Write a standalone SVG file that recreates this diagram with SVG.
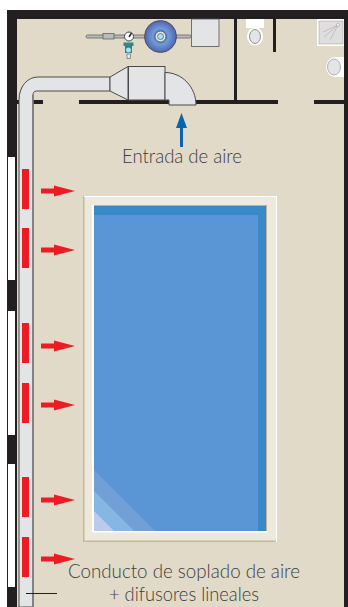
<svg xmlns="http://www.w3.org/2000/svg" width="348" height="607" viewBox="0 0 348 607">
<style>
.wall{fill:#231f20}
.win{fill:#fff}
.duct{fill:#e3e4e6;stroke:#4a4a4a;stroke-width:1}
.bar{fill:#ed1c24}
.lbl{font-family:"Lato","Liberation Sans",sans-serif;font-weight:300;font-size:19px;fill:#3c3c3c;text-anchor:middle}
.pipe{fill:#b9babc;stroke:#555;stroke-width:.7}
</style>
<defs>
<g id="arrow"><path class="bar" d="M41 -2.500H54V-5.500L75 0L54 5.500V2.500H41Z"/></g>
<radialGradient id="fan"><stop offset="0" stop-color="#2e4f9e"/><stop offset=".5" stop-color="#6f9bd8"/><stop offset="1" stop-color="#5363ad"/></radialGradient>
</defs>
<rect width="348" height="607" fill="#fff"/>
<g id="floor">
<rect x="17" y="19" width="327" height="588" fill="#e1dac8"/>
</g>
<g id="walls">
<rect class="wall" x="7" y="10" width="341" height="9"/>
<rect class="wall" x="7" y="10" width="10" height="597"/>
<rect class="wall" x="344" y="10" width="4" height="597"/>
<rect class="wall" x="234" y="19" width="3" height="83"/>
<rect class="wall" x="273" y="19" width="3" height="33"/>
<rect class="wall" x="17" y="100" width="26" height="4"/>
<rect class="wall" x="79" y="100" width="199" height="4"/>
<rect class="wall" x="314" y="100" width="30" height="4"/>
<rect class="win" x="8" y="157" width="7" height="123"/>
<rect class="win" x="8" y="311" width="7" height="124"/>
<rect class="win" x="8" y="464" width="7" height="123"/>
</g>
<g id="bathroom">
<rect x="246" y="19" width="18" height="9" fill="#fff"/>
<ellipse cx="255" cy="36.500" rx="8" ry="9" fill="#fff"/>
<ellipse cx="255" cy="36.500" rx="5.500" ry="7" fill="#e3e4e6" stroke="#777" stroke-width=".8"/>
<rect x="317" y="19" width="27" height="27" fill="#fff"/>
<rect x="319" y="21" width="24" height="23" fill="#dddedd" stroke="#999" stroke-width=".5"/>
<path d="M338 25L323 32M338 25L324 37M338 25L330 40" stroke="#aaa" stroke-width=".6" fill="none"/>
<circle cx="338" cy="25" r="1.500" fill="#fff" stroke="#888" stroke-width=".5"/>
<path d="M344 57H335a8.500 9.500 0 0 0 0 20H344Z" fill="#fff"/>
<ellipse cx="334" cy="67" rx="6.500" ry="8" fill="#e3e4e6" stroke="#888" stroke-width=".6"/>
</g>
<g id="pool">
<rect x="83" y="196" width="194" height="346" fill="#ede9dd"/>
<path d="M83 542V196h1.500V540.500H277V542Z" fill="#c4b998"/>
<path d="M84 196H277V542h-1V197H84Z" fill="#fff"/>
<rect x="92" y="205" width="175" height="327.500" fill="#fff"/>
<rect x="94" y="205" width="173" height="326" fill="#bfb187"/>
<rect x="94" y="206" width="172" height="325" fill="#3b88c9"/>
<rect x="94" y="215" width="164" height="316" fill="#5a96d5"/>
<path d="M94 470L155 531H94Z" fill="#72a0d6"/>
<path d="M94 491L134 531H94Z" fill="#86b6e2"/>
<path d="M94 511L114 531H94Z" fill="#bccbea"/>
</g>
<g id="equipment">
<rect class="pipe" x="86" y="35" width="105" height="3" rx="1.500"/>
<rect class="pipe" x="103" y="33.500" width="11" height="5.500"/>
<circle cx="129" cy="36.500" r="4.500" fill="#fff" stroke="#444" stroke-width="1"/>
<path d="M129 37L131.500 33" stroke="#222" stroke-width="1.500"/>
<rect x="123.500" y="42.500" width="10" height="3.500" fill="#2a8a8f"/>
<path d="M125 46H132V53H125Z" fill="#2f7f87"/>
<circle cx="128.500" cy="50" r="2.500" fill="#a5e3f4"/>
<path d="M127 54H130.500V58.500H127Z" fill="#e8e8e8" stroke="#555" stroke-width=".6"/>
<circle cx="160.500" cy="36.500" r="16" fill="url(#fan)" stroke="#444" stroke-width=".8"/>
<circle cx="160.500" cy="36.500" r="5.500" fill="#dfe2e6" stroke="#444" stroke-width=".8"/>
<circle cx="160.500" cy="36.500" r="3" fill="#a5e3f4" stroke="#444" stroke-width=".6"/>
<rect x="191.500" y="19" width="27.500" height="27.500" fill="#e3e4e6" stroke="#555" stroke-width=".8"/>
</g>
<g id="duct">
<path class="duct" d="M19 607V100C19 87 27 77 38 77H110V91H36.500C34 91 33 93 33 95V607Z"/>
<path d="M33 95V607" stroke="#7d7d7d" stroke-width="1.600" fill="none"/>
<path class="duct" d="M110 77L128 66.500V100L110 91Z"/>
<rect class="duct" x="128.500" y="66.500" width="36.500" height="33.500"/>
<path class="duct" d="M165 72.500C182 72.500 196 87 196 105H169V100H165Z"/>
</g>
<g id="diffusers">
<rect class="bar" x="22" y="169" width="7" height="40"/>
<rect class="bar" x="22" y="228" width="7" height="40"/>
<rect class="bar" x="22" y="323" width="7" height="40"/>
<rect class="bar" x="22" y="383" width="7" height="40"/>
<rect class="bar" x="22" y="477" width="7" height="40"/>
<rect class="bar" x="22" y="537" width="7" height="40"/>
</g>
<g id="connectors">
<use href="#arrow" y="191"/>
<use href="#arrow" y="250"/>
<use href="#arrow" y="346"/>
<use href="#arrow" y="405"/>
<use href="#arrow" y="500"/>
<use href="#arrow" y="559"/>
<path d="M181.500 113L187 128H183V147H180V128H176Z" fill="#0a64ad"/>
<path d="M26 593.500H57" stroke="#231f20" stroke-width="1" fill="none"/>
</g>
<g id="labels">
<text class="lbl" x="182" y="163" textLength="120" lengthAdjust="spacingAndGlyphs">Entrada de aire</text>
<text class="lbl" x="184" y="578" textLength="232" lengthAdjust="spacingAndGlyphs">Conducto de soplado de aire</text>
<text class="lbl" x="184" y="601" textLength="150" lengthAdjust="spacingAndGlyphs">+ difusores lineales</text>
</g>
</svg>
